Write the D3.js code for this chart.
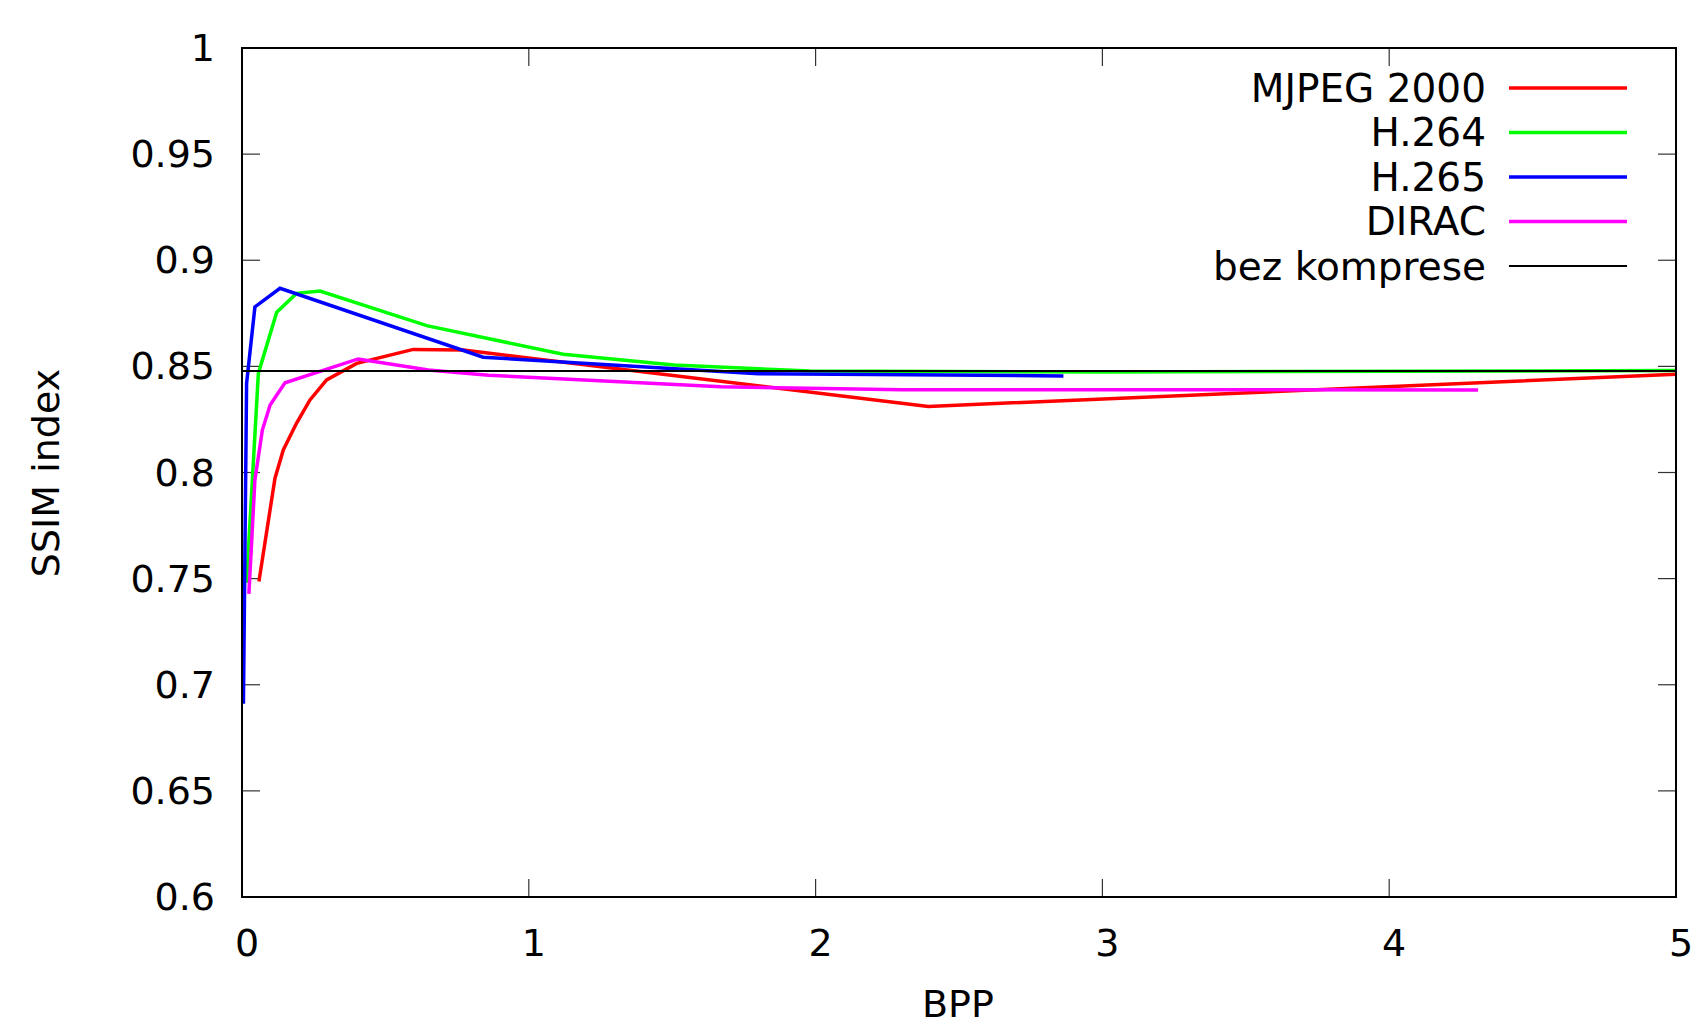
<!DOCTYPE html>
<html>
<head>
<meta charset="utf-8">
<script src="https://cdn.jsdelivr.net/npm/d3@7"></script>
<style>
  body { margin: 0; background: white; }
  text { font-family: "DejaVu Sans", sans-serif; fill: black; }
</style>
</head>
<body>
<svg width="1699" height="1025"></svg>
<script>
// values
const mjpegX = [0.059, 0.115, 0.144, 0.19, 0.237, 0.295, 0.40, 0.597, 0.772, 2.393, 5.0];
const mjpegY = [0.7486, 0.7973, 0.8106, 0.8232, 0.8342, 0.8436, 0.8514, 0.8580, 0.8577, 0.8311, 0.8463];

const h264X = [0.016, 0.057, 0.121, 0.19, 0.272, 0.644, 1.12, 1.506, 1.98, 3.0, 5.0];
const h264Y = [0.748, 0.8467, 0.8755, 0.8844, 0.8855, 0.8692, 0.8557, 0.8506, 0.8478, 0.8474, 0.8480];

const h265X = [0.005, 0.016, 0.045, 0.1325, 0.841, 1.8, 2.864];
const h265Y = [0.691, 0.842, 0.878, 0.8868, 0.8543, 0.8465, 0.8455];

const diracX = [0.024, 0.045, 0.071, 0.098, 0.15, 0.405, 0.65, 0.86, 1.67, 2.3, 4.31];
const diracY = [0.7428, 0.7965, 0.82, 0.8318, 0.8423, 0.8535, 0.8483, 0.8458, 0.8404, 0.839, 0.8389];

const refX = [0, 5];
const refY = [0.8478, 0.8478];

const seriesNames = ["MJPEG 2000", "H.264", "H.265", "DIRAC", "bez komprese"];
const seriesColors = ["#ff0000", "#00ff00", "#0000ff", "#ff00ff", "#000000"];

const xTicks = [0, 1, 2, 3, 4, 5];
const yTicks = [0.6, 0.65, 0.7, 0.75, 0.8, 0.85, 0.9, 0.95, 1];

const series = [
  d3.zip(mjpegX, mjpegY),
  d3.zip(h264X, h264Y),
  d3.zip(h265X, h265Y),
  d3.zip(diracX, diracY),
  d3.zip(refX, refY)
];

const svg = d3.select('svg');
const plotLeft = 242, plotRight = 1676, plotTop = 48, plotBottom = 897;

const x = d3.scaleLinear().domain([0, 5]).range([plotLeft, plotRight]);
const y = d3.scaleLinear().domain([0.6, 1]).range([plotBottom, plotTop]);

const fontSize = 38;
const tickLen = 18;

// ticks, inward on all four sides
const tickG = svg.append('g').attr('stroke', '#333').attr('stroke-width', 1.2);
xTicks.forEach(t => {
  tickG.append('line').attr('x1', x(t)).attr('x2', x(t)).attr('y1', plotBottom).attr('y2', plotBottom - tickLen);
  tickG.append('line').attr('x1', x(t)).attr('x2', x(t)).attr('y1', plotTop).attr('y2', plotTop + tickLen);
});
yTicks.forEach(t => {
  tickG.append('line').attr('x1', plotLeft).attr('x2', plotLeft + tickLen).attr('y1', y(t)).attr('y2', y(t));
  tickG.append('line').attr('x1', plotRight).attr('x2', plotRight - tickLen).attr('y1', y(t)).attr('y2', y(t));
});

// tick labels (gnuplot puts them a little right of the tick)
svg.append('g').selectAll('text').data(xTicks).join('text')
  .attr('x', d => x(d) + 5).attr('y', 943)
  .attr('text-anchor', 'middle').attr('dominant-baseline', 'central')
  .style('font-size', fontSize + 'px')
  .text(d => d);

svg.append('g').selectAll('text').data(yTicks).join('text')
  .attr('x', 215).attr('y', d => y(d))
  .attr('text-anchor', 'end').attr('dominant-baseline', 'central')
  .style('font-size', fontSize + 'px')
  .text(d => d3.format('~g')(d));

// axis titles
svg.append('text')
  .attr('transform', 'translate(46,473) rotate(-90)')
  .attr('text-anchor', 'middle').attr('dominant-baseline', 'central')
  .style('font-size', fontSize + 'px')
  .text('SSIM index');

svg.append('text')
  .attr('x', 958).attr('y', 1004)
  .attr('text-anchor', 'middle').attr('dominant-baseline', 'central')
  .style('font-size', fontSize + 'px')
  .text('BPP');

// data lines
svg.append('clipPath').attr('id', 'plotclip')
  .append('rect').attr('x', plotLeft).attr('y', plotTop)
  .attr('width', plotRight - plotLeft).attr('height', plotBottom - plotTop);

const line = d3.line().x(d => x(d[0])).y(d => y(d[1]));

svg.append('g').attr('clip-path', 'url(#plotclip)')
  .selectAll('path').data(series).join('path')
  .attr('d', line)
  .attr('fill', 'none')
  .attr('stroke', (d, i) => seriesColors[i])
  .attr('stroke-width', (d, i) => i === 4 ? 2 : 3.5)
  .attr('stroke-linejoin', 'miter');

// legend
const legendY = [88, 132.5, 177, 221.5, 266];
const legend = svg.append('g');
seriesNames.forEach((name, i) => {
  legend.append('text')
    .attr('x', 1486).attr('y', legendY[i])
    .attr('text-anchor', 'end').attr('dominant-baseline', 'central')
    .style('font-size', '39px')
    .text(name);
  legend.append('line')
    .attr('x1', 1509).attr('x2', 1627)
    .attr('y1', legendY[i]).attr('y2', legendY[i])
    .attr('stroke', seriesColors[i])
    .attr('stroke-width', i === 4 ? 2 : 3.5);
});

// frame
svg.append('rect')
  .attr('x', plotLeft).attr('y', plotTop)
  .attr('width', plotRight - plotLeft).attr('height', plotBottom - plotTop)
  .attr('fill', 'none').attr('stroke', 'black').attr('stroke-width', 2);
</script>
</body>
</html>
